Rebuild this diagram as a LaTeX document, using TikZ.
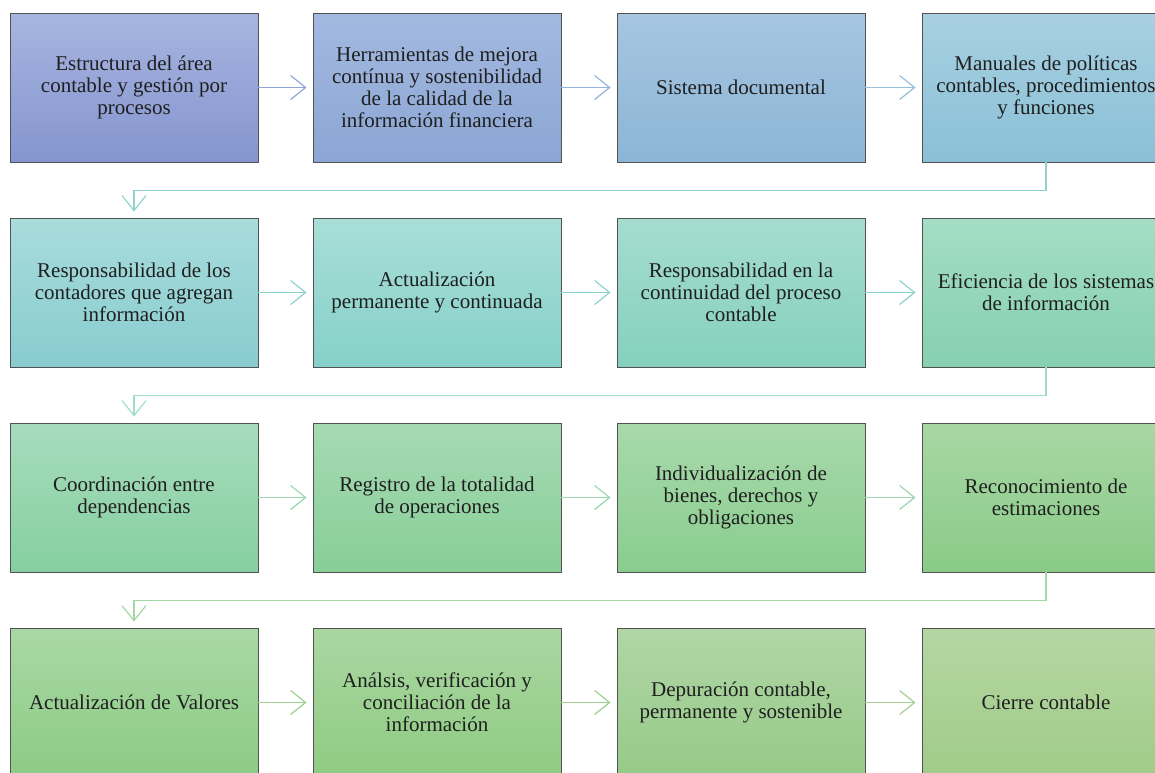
\documentclass[tikz,border=0pt]{standalone}
\usepackage{fontspec}
\newfontfamily\tms{LiberationSerif}[Extension=.ttf, UprightFont=*-Regular, BoldFont=*-Bold]
\usetikzlibrary{arrows.meta}
\tikzset{
  box/.style={draw=black!68, line width=0.9pt, minimum width=248pt, minimum height=149pt,
    inner sep=0pt, align=center, text=black!88,
    font=\tms\fontsize{21}{22}\selectfont, shading angle=0},
  conn/.style={line width=1.8pt, -{Straight Barb[length=15pt,width=24pt,line width=1.2pt]}, shorten >=6pt},
}
\definecolor{a1}{HTML}{8EA5D8}
\definecolor{a2}{HTML}{95B3DC}
\definecolor{a3}{HTML}{97C0DC}
\definecolor{e1}{HTML}{93D0D0}
\definecolor{a4}{HTML}{8FD3CC}
\definecolor{e2}{HTML}{A0DCC8}
\definecolor{a5}{HTML}{9CD7B0}
\definecolor{e3}{HTML}{A5D6A5}
\definecolor{a6}{HTML}{9FD08F}
\definecolor{a7}{HTML}{A9CF98}
\begin{document}
\begin{tikzpicture}[x=1pt,y=-1pt]
\useasboundingbox (0,0) rectangle (1155,772);
\clip (0,0) rectangle (1155,772);
% row 1
\node[box, top color={rgb,255:red,167;green,181;blue,224}, bottom color={rgb,255:red,133;green,149;blue,207}] (b1) at (134,87.5) {Estructura del área\\contable y gestión por\\procesos};
\node[box, top color={rgb,255:red,163;green,185;blue,224}, bottom color={rgb,255:red,139;green,166;blue,212}] (b2) at (437,87.5) {Herramientas de mejora\\contínua y sostenibilidad\\de la calidad de la\\información financiera};
\node[box, top color={rgb,255:red,166;green,198;blue,224}, bottom color={rgb,255:red,140;green,181;blue,214}] (b3) at (741,87.5) {Sistema documental};
\node[box, top color={rgb,255:red,168;green,208;blue,226}, bottom color={rgb,255:red,138;green,192;blue,214}] (b4) at (1046,87.5) {Manuales de políticas\\contables, procedimientos\\y funciones};
% row 2
\node[box, top color={rgb,255:red,169;green,220;blue,219}, bottom color={rgb,255:red,136;green,204;blue,208}] (b5) at (134,292.5) {Responsabilidad de los\\contadores que agregan\\información};
\node[box, top color={rgb,255:red,168;green,222;blue,216}, bottom color={rgb,255:red,134;green,209;blue,201}] (b6) at (437,292.5) {Actualización\\permanente y continuada};
\node[box, top color={rgb,255:red,165;green,221;blue,207}, bottom color={rgb,255:red,133;green,208;blue,190}] (b7) at (741,292.5) {Responsabilidad en la\\continuidad del proceso\\contable};
\node[box, top color={rgb,255:red,164;green,221;blue,197}, bottom color={rgb,255:red,134;green,208;blue,176}] (b8) at (1046,292.5) {Eficiencia de los sistemas\\de información};
% row 3
\node[box, top color={rgb,255:red,166;green,220;blue,189}, bottom color={rgb,255:red,134;green,207;blue,160}] (b9) at (134,497.5) {Coordinación entre\\dependencias};
\node[box, top color={rgb,255:red,166;green,218;blue,179}, bottom color={rgb,255:red,136;green,206;blue,152}] (b10) at (437,497.5) {Registro de la totalidad\\de operaciones};
\node[box, top color={rgb,255:red,168;green,217;blue,171}, bottom color={rgb,255:red,137;green,205;blue,142}] (b11) at (741,497.5) {Individualización de\\bienes, derechos y\\obligaciones};
\node[box, top color={rgb,255:red,168;green,215;blue,164}, bottom color={rgb,255:red,138;green,203;blue,136}] (b12) at (1046,497.5) {Reconocimiento de\\estimaciones};
% row 4
\node[box, top color={rgb,255:red,169;green,216;blue,164}, bottom color={rgb,255:red,140;green,203;blue,133}] (b13) at (134,702.5) {Actualización de Valores};
\node[box, top color={rgb,255:red,170;green,215;blue,162}, bottom color={rgb,255:red,143;green,203;blue,130}] (b14) at (437,702.5) {Análsis, verificación y\\conciliación de la\\información};
\node[box, top color={rgb,255:red,176;green,214;blue,165}, bottom color={rgb,255:red,150;green,202;blue,136}] (b15) at (741,702.5) {Depuración contable,\\permanente y sostenible};
\node[box, top color={rgb,255:red,181;green,214;blue,163}, bottom color={rgb,255:red,160;green,204;blue,136}] (b16) at (1046,702.5) {Cierre contable};
% connectors
\draw[conn, a1] (b1) -- (b2);
\draw[conn, a2] (b2) -- (b3);
\draw[conn, a3] (b3) -- (b4);
\draw[conn, e1] (b4.south) -- ++(0,28) -| (b5.north);
\draw[conn, a4] (b5) -- (b6);
\draw[conn, a4] (b6) -- (b7);
\draw[conn, a4] (b7) -- (b8);
\draw[conn, e2] (b8.south) -- ++(0,28) -| (b9.north);
\draw[conn, a5] (b9) -- (b10);
\draw[conn, a5] (b10) -- (b11);
\draw[conn, a5] (b11) -- (b12);
\draw[conn, e3] (b12.south) -- ++(0,28) -| (b13.north);
\draw[conn, a6] (b13) -- (b14);
\draw[conn, a6] (b14) -- (b15);
\draw[conn, a7] (b15) -- (b16);
\end{tikzpicture}
\end{document}
